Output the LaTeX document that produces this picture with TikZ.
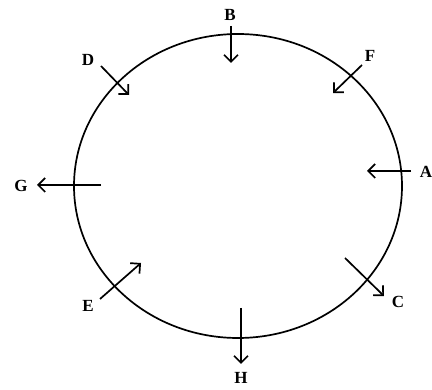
\documentclass[tikz,border=0pt]{standalone}
\usepackage{fontspec}
\setmainfont{Liberation Serif}
\usetikzlibrary{arrows.meta}

\begin{document}
\begin{tikzpicture}[x=1pt,y=-1pt,
  dirlabel/.style={font=\fontsize{17}{17}\selectfont\bfseries, inner sep=1pt},
  dirarrow/.style={line width=1.7pt, -{Straight Barb[length=7pt,width=14pt,line width=1.7pt]}}]
\useasboundingbox (0,0) rectangle (432,390);
\draw[line width=1.7pt] (238,186) ellipse (164 and 152);
\node[dirlabel] (labA) at (426,172) {A};
\node[dirlabel] (labB) at (230,15) {B};
\node[dirlabel] (labC) at (398,302) {C};
\node[dirlabel] (labD) at (88,60) {D};
\node[dirlabel] (labE) at (88,306) {E};
\node[dirlabel] (labF) at (370,56) {F};
\node[dirlabel] (labG) at (21,186) {G};
\node[dirlabel] (labH) at (241,378) {H};
\coordinate (tailA) at (411,171);
\coordinate (headA) at (367,171);
\coordinate (tailB) at (231,26);
\coordinate (headB) at (231,63);
\coordinate (tailC) at (345,258);
\coordinate (headC) at (384,296);
\coordinate (tailD) at (101,66);
\coordinate (headD) at (129,95);
\coordinate (tailE) at (100,299);
\coordinate (headE) at (141,263);
\coordinate (tailF) at (362,65);
\coordinate (headF) at (333,93);
\coordinate (tailG) at (101,185);
\coordinate (headG) at (37,185);
\coordinate (tailH) at (241,308);
\coordinate (headH) at (241,364);
\draw[dirarrow] (tailA) -- (headA);
\draw[dirarrow] (tailB) -- (headB);
\draw[dirarrow] (tailC) -- (headC);
\draw[dirarrow] (tailD) -- (headD);
\draw[dirarrow] (tailE) -- (headE);
\draw[dirarrow] (tailF) -- (headF);
\draw[dirarrow] (tailG) -- (headG);
\draw[dirarrow] (tailH) -- (headH);
\end{tikzpicture}
\end{document}
